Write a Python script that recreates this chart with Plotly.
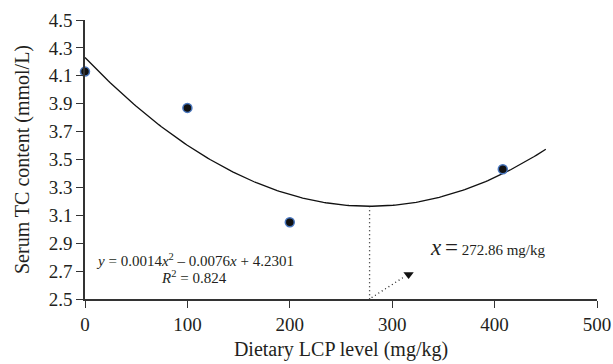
import numpy as np
import plotly.graph_objects as go

# Data
lcp_level = [0, 100, 200, 408]
serum_tc = [4.13, 3.87, 3.05, 3.43]
x_ticks = [0, 100, 200, 300, 400, 500]
y_ticks = [2.5, 2.7, 2.9, 3.1, 3.3, 3.5, 3.7, 3.9, 4.1, 4.3, 4.5]
fit_x_max = 450
optimum_label = "272.86 mg/kg"

coef = np.polyfit(lcp_level, serum_tc, 2)
xs = np.linspace(0, fit_x_max, 200)
ys = np.polyval(coef, xs)
x_opt = -coef[1] / (2 * coef[0])
y_opt = np.polyval(coef, x_opt)

SERIF = "Liberation Serif, Times New Roman, serif"
AX = "#333333"
TXT = "#231f20"

fig = go.Figure()
fig.add_trace(go.Scatter(x=xs, y=ys, mode="lines",
                         line=dict(color="#111111", width=1.3),
                         hoverinfo="skip", showlegend=False))
# dotted vertical from vertex to x-axis
fig.add_trace(go.Scatter(x=[x_opt, x_opt], y=[y_opt, 2.5], mode="lines",
                         line=dict(color="#222222", width=1.3, dash="1px,3px"),
                         showlegend=False, cliponaxis=False))
# dotted diagonal to arrow
fig.add_trace(go.Scatter(x=[x_opt + 2, 312], y=[2.51, 2.66], mode="lines",
                         line=dict(color="#222222", width=1.3, dash="1px,3px"),
                         showlegend=False, cliponaxis=False))
fig.add_trace(go.Scatter(x=[316], y=[2.675], mode="markers",
                         marker=dict(symbol="triangle-down", size=9, color="#111111"),
                         showlegend=False))
fig.add_trace(go.Scatter(x=lcp_level, y=serum_tc, mode="markers",
                         marker=dict(size=9, color="#111111",
                                     line=dict(color="#4a78c0", width=1.5)),
                         showlegend=False, cliponaxis=False))

fig.add_annotation(x=107, y=2.78, xref="x", yref="y", showarrow=False,
                   text="<i>y</i> = 0.0014<i>x</i><sup>2</sup> – 0.0076<i>x</i> + 4.2301",
                   font=dict(family=SERIF, size=15, color=TXT))
fig.add_annotation(x=106, y=2.655, xref="x", yref="y", showarrow=False,
                   text="<i>R</i><sup>2</sup> = 0.824",
                   font=dict(family=SERIF, size=15, color=TXT))
fig.add_annotation(x=394, y=2.87, xref="x", yref="y", showarrow=False,
                   text="<i><span style='font-size:23px'>x</span></i> <span style='font-size:23px'>=</span> " + optimum_label,
                   font=dict(family=SERIF, size=15, color=TXT))

fig.update_layout(
    width=613, height=364,
    margin=dict(l=85, r=16, t=20, b=65, autoexpand=False),
    plot_bgcolor="white", paper_bgcolor="white",
    font=dict(family=SERIF, size=19, color=TXT),
)
fig.update_xaxes(range=[0, 500], tickvals=x_ticks, ticks="outside", ticklen=7,
                 tickcolor=AX, showline=True, linecolor=AX, linewidth=1.5,
                 showgrid=False, zeroline=False, automargin=False,
                 title=dict(text="Dietary LCP level (mg/kg)", standoff=8,
                            font=dict(size=20)))
fig.update_yaxes(range=[2.5, 4.5], tickvals=y_ticks, tickformat=".1f",
                 ticks="outside", ticklen=7, tickcolor=AX,
                 showline=True, linecolor=AX, linewidth=1.5,
                 showgrid=False, zeroline=False, automargin=False,
                 title=dict(text="Serum TC content (mmol/L)", standoff=14,
                            font=dict(size=20)))

fig.write_html("out.html")
